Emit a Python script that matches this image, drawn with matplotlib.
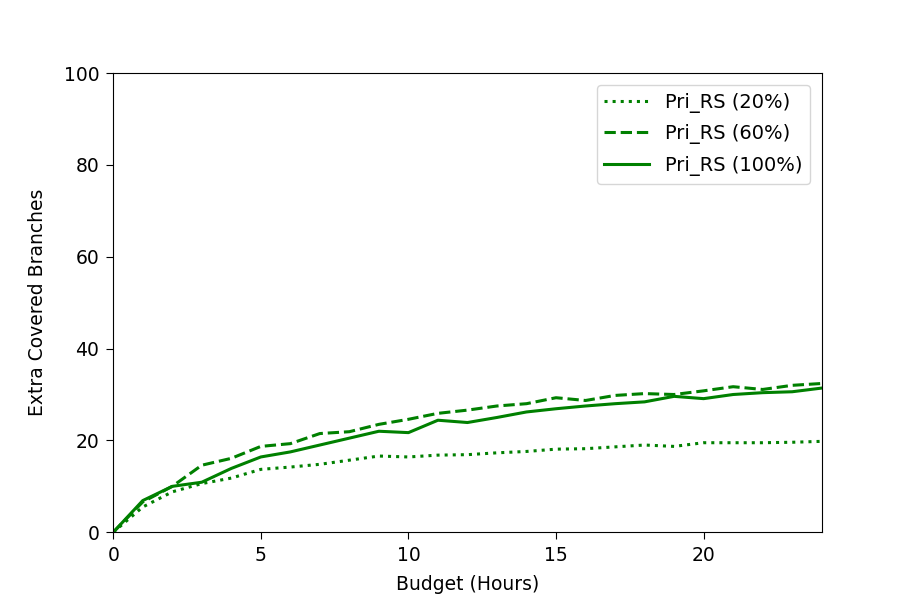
import matplotlib
matplotlib.use("Agg")
import matplotlib.pyplot as plt

plt.rcParams['font.family'] = ['DejaVu Sans']

hours = list(range(0, 25))
pri_rs_20 = [0, 5.5, 8.8, 10.6, 11.8, 13.7, 14.2, 14.8, 15.7, 16.6, 16.4, 16.8, 16.9,
             17.3, 17.6, 18.1, 18.2, 18.6, 19.0, 18.7, 19.5, 19.5, 19.5, 19.6, 19.8]
pri_rs_60 = [0, 6.6, 10.0, 14.6, 16.1, 18.7, 19.3, 21.5, 21.9, 23.5, 24.6, 25.9, 26.6,
             27.5, 28.0, 29.3, 28.7, 29.8, 30.2, 30.0, 30.8, 31.7, 31.1, 32.0, 32.4]
pri_rs_100 = [0, 6.9, 10.0, 10.9, 13.9, 16.4, 17.5, 19.0, 20.5, 22.0, 21.7, 24.4, 23.9,
              25.0, 26.2, 26.9, 27.5, 28.0, 28.4, 29.6, 29.1, 30.0, 30.4, 30.6, 31.4]

fig, ax = plt.subplots(figsize=(9.13, 6.09), dpi=100)
fig.subplots_adjust(left=0.124, right=0.9, bottom=0.126, top=0.88)

ax.plot(hours, pri_rs_20, color='green', linestyle=':', linewidth=2.2, label='Pri_RS (20%)')
ax.plot(hours, pri_rs_60, color='green', linestyle='--', linewidth=2.2, label='Pri_RS (60%)')
ax.plot(hours, pri_rs_100, color='green', linestyle='-', linewidth=2.2, label='Pri_RS (100%)')

ax.set_xlim(0, 24)
ax.set_ylim(0, 100)
ax.set_xticks([0, 5, 10, 15, 20])
ax.set_yticks([0, 20, 40, 60, 80, 100])
ax.tick_params(labelsize=13.5, length=5, pad=5)
ax.set_xlabel('Budget (Hours)', fontsize=13.5, labelpad=7)
ax.set_ylabel('Extra Covered Branches', fontsize=13.5, labelpad=12)
ax.legend(loc='upper right', fontsize=14, handlelength=2.3, labelspacing=0.6,
          borderaxespad=0.6)

fig.savefig('out.png')
